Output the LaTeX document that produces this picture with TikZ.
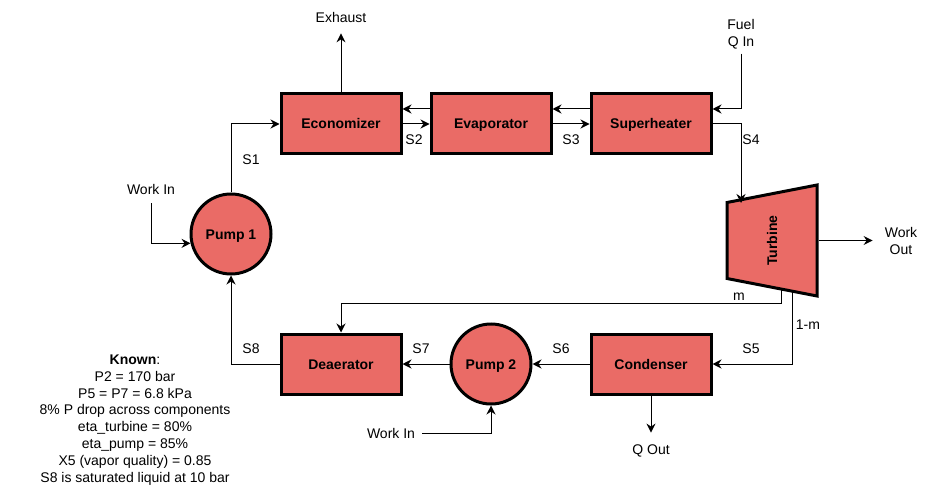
\documentclass[tikz,border=0pt]{standalone}
\usepackage{fontspec}
\setmainfont{Liberation Sans}
\usetikzlibrary{arrows.meta,shapes.geometric}
\definecolor{coral}{RGB}{234,107,102}
\tikzset{
  >={Stealth[length=9pt,width=9pt,inset=3pt]},
  unit/.style={draw=black,fill=coral,line width=3pt,font=\fontsize{14}{16}\selectfont\bfseries,align=center,text height=12pt,text depth=2pt},
  hx/.style={unit,rectangle,minimum width=120pt,minimum height=60pt},
  pump/.style={unit,circle,minimum size=80pt,inner sep=0pt},
  flow/.style={->,line width=1pt,draw=black},
  tag/.style={font=\fontsize{14}{17}\selectfont,align=center,inner sep=2pt},
}
\begin{document}
\begin{tikzpicture}[x=1pt,y=-1pt]
  \useasboundingbox (0,0) rectangle (933,486);
  % units
  \node[hx] (eco) at (341,124) {Economizer};
  \node[hx] (eva) at (491,124) {Evaporator};
  \node[hx] (sup) at (651,124) {Superheater};
  \node[hx] (dea) at (341,364) {Deaerator};
  \node[hx] (con) at (651,364) {Condenser};
  \node[pump] (pumpone) at (231,234) {Pump 1};
  \node[pump] (pumptwo) at (491,364) {Pump 2};
  \node[unit,trapezium,rotate=90,trapezium stretches body=true,trapezium angle=79,
    minimum width=111pt,inner xsep=0pt,inner ysep=38pt] (tur) at (772,240.5) {Turbine};
  % free labels
  \node[tag,inner ysep=11pt] (exhaust) at (341,17) {Exhaust};
  \node[tag,inner ysep=4.5pt] (fuel) at (741,34) {Fuel\\Q In};
  \node[tag,inner ysep=9pt] (workone) at (151,189) {Work In};
  \node[tag,inner xsep=7pt] (worktwo) at (391,433) {Work In};
  \node[tag,inner xsep=12pt] (workout) at (901,240.5) {Work\\Out};
  \node[tag,inner ysep=11.5pt] (qout) at (651,450.5) {Q Out};
  \foreach \t/\x/\y in {S1/251/159.5,S2/414/140,S3/571/140,S4/751/140,S5/751/349,S6/561/349,S7/421/349,S8/251/349,m/739/297,1-m/808/325}
    \node[tag] (lbl\t) at (\x,\y) {\t};
  \node[tag,font=\fontsize{14}{16.8}\selectfont] (known) at (135,420) {\textbf{Known}:\\P2 = 170 bar\\P5 = P7 = 6.8 kPa\\8\% P drop across components\\eta\_turbine = 80\%\\eta\_pump = 85\%\\X5 (vapor quality) = 0.85\\S8 is saturated liquid at 10 bar};
  % tap points on the turbine
  \coordinate (turin) at (741,203);
  \coordinate (tapm) at (781,288);
  \coordinate (kneem) at (781,303);
  \coordinate (tapn) at (792,291);
  % streams
  \draw[flow] (pumpone.north) |- (eco.west);
  \draw[flow] (eco.east) -- (eva.west);
  \draw[flow] (eva.east) -- (sup.west);
  \draw[flow] (sup.east) -| (turin);
  \draw[flow] ([yshift=15pt]eva.west) -- ([yshift=15pt]eco.east);
  \draw[flow] ([yshift=15pt]sup.west) -- ([yshift=15pt]eva.east);
  \draw[flow] (fuel.south) |- ([yshift=15pt]sup.east);
  \draw[flow] (eco.north) -- (exhaust.south);
  \draw[flow] (tur.south) -- (workout.west);
  \draw[flow] (tapm) -- (kneem) -| (dea.north);
  \draw[flow] (tapn) |- (con.east);
  \draw[flow] (con.west) -- (pumptwo.east);
  \draw[flow] (pumptwo.west) -- (dea.east);
  \draw[flow] (dea.west) -| (pumpone.south);
  \draw[flow] (con.south) -- (qout.north);
  \draw[flow] (workone.south) |- (pumpone.193);
  \draw[flow] (worktwo.east) -| (pumptwo.south);
\end{tikzpicture}
\end{document}
